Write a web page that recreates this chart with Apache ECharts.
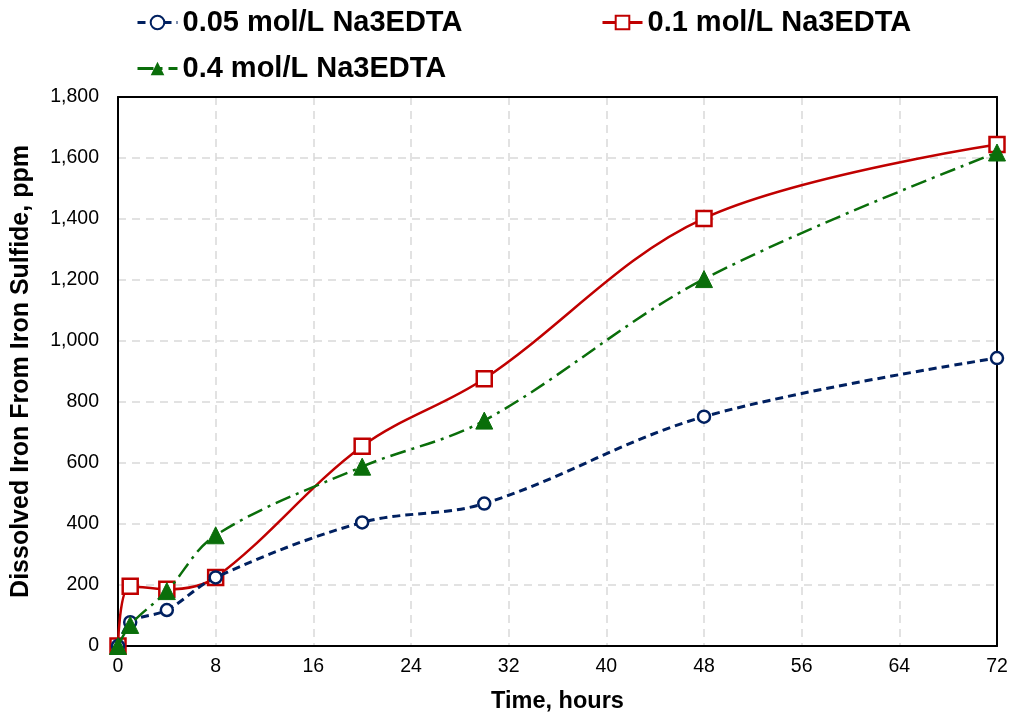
<!DOCTYPE html>
<html>
<head>
<meta charset="utf-8">
<script src="https://cdn.jsdelivr.net/npm/echarts@6/dist/echarts.min.js"></script>
<style>
  html, body { margin: 0; padding: 0; background: #fff; }
  #chart { width: 1013px; height: 719px; }
</style>
</head>
<body>
<div id="chart"></div>
<script>
// reaction time, hours
const hours = [0, 1, 4, 8, 20, 30, 48, 72];

// dissolved iron, ppm
const ironLow = [0, 78, 118, 225, 405, 467, 752, 944];      // 0.05 mol/L
const ironMid = [0, 196, 186, 225, 655, 876, 1402, 1644];   // 0.1 mol/L
const ironHigh = [0, 69, 180, 363, 588, 739, 1203, 1618];   // 0.4 mol/L

const seriesNames = ['0.05 mol/L Na3EDTA', '0.1 mol/L Na3EDTA', '0.4 mol/L Na3EDTA'];

const pairs = (ys) => hours.map((h, i) => [h, ys[i]]);

const chart = echarts.init(document.getElementById('chart'));

const legendText = { fontFamily: 'Liberation Sans, Arial', fontSize: 29, fontWeight: 'bold', color: '#000' };
const legendBase = { itemWidth: 40, itemHeight: 17, itemGap: 5, textStyle: legendText, lineStyle: { width: 3 } };
const gridLine = { show: true, lineStyle: { color: '#d9d9d9', width: 1.5, type: [8, 6] } };
const frameLine = { show: true, onZero: false, lineStyle: { color: '#000', width: 2 } };

chart.setOption({
  animation: false,
  textStyle: { fontFamily: 'Liberation Sans, Arial' },
  grid: { left: 118, right: 16, top: 97, bottom: 68 },
  legend: [
    Object.assign({ data: [seriesNames[0]], left: 131, top: 3 }, legendBase),
    Object.assign({ data: [seriesNames[1]], left: 596, top: 3 }, legendBase),
    Object.assign({ data: [seriesNames[2]], left: 131, top: 49 }, legendBase)
  ],
  xAxis: [
    {
      type: 'value',
      min: 0, max: 72, interval: 8,
      name: 'Time, hours',
      nameLocation: 'middle',
      nameGap: 44,
      nameTextStyle: { fontSize: 23.5, fontWeight: 'bold', color: '#000' },
      axisLine: frameLine,
      axisTick: { show: false },
      axisLabel: { fontSize: 19.5, color: '#000', margin: 11 },
      splitLine: gridLine,
      z: 0
    },
    {
      type: 'value', position: 'top',
      min: 0, max: 72, interval: 8,
      axisLine: frameLine,
      axisTick: { show: false }, axisLabel: { show: false }, splitLine: { show: false },
      z: 1
    }
  ],
  yAxis: [
    {
      type: 'value',
      min: 0, max: 1800, interval: 200,
      name: 'Dissolved Iron From Iron Sulfide, ppm',
      nameLocation: 'middle',
      nameGap: 84,
      nameTextStyle: { fontSize: 25, fontWeight: 'bold', color: '#000' },
      axisLine: frameLine,
      axisTick: { show: false },
      axisLabel: {
        fontSize: 19.5, color: '#000', margin: 19,
        formatter: (v) => v.toLocaleString('en-US')
      },
      splitLine: gridLine,
      z: 0
    },
    {
      type: 'value', position: 'right',
      min: 0, max: 1800, interval: 200,
      axisLine: frameLine,
      axisTick: { show: false }, axisLabel: { show: false }, splitLine: { show: false },
      z: 1
    }
  ],
  series: [
    {
      name: seriesNames[0],
      type: 'line',
      data: pairs(ironLow),
      smooth: 0.35,
      symbol: 'circle',
      symbolSize: 12,
      z: 4,
      lineStyle: { color: '#002060', width: 3, type: [8, 5] },
      itemStyle: { color: '#fff', borderColor: '#002060', borderWidth: 2.5 }
    },
    {
      name: seriesNames[1],
      type: 'line',
      data: pairs(ironMid),
      smooth: 0.35,
      symbol: 'rect',
      symbolSize: 15,
      z: 3,
      lineStyle: { color: '#C00000', width: 2.5 },
      itemStyle: { color: '#fff', borderColor: '#C00000', borderWidth: 2.5 }
    },
    {
      name: seriesNames[2],
      type: 'line',
      data: pairs(ironHigh),
      smooth: 0.35,
      symbol: 'triangle',
      symbolSize: 17,
      z: 5,
      lineStyle: { color: '#0A6E0A', width: 2.5, type: [16, 6, 3, 6] },
      itemStyle: { color: '#0A6E0A', borderColor: '#0A6E0A' }
    }
  ]
});
</script>
</body>
</html>
